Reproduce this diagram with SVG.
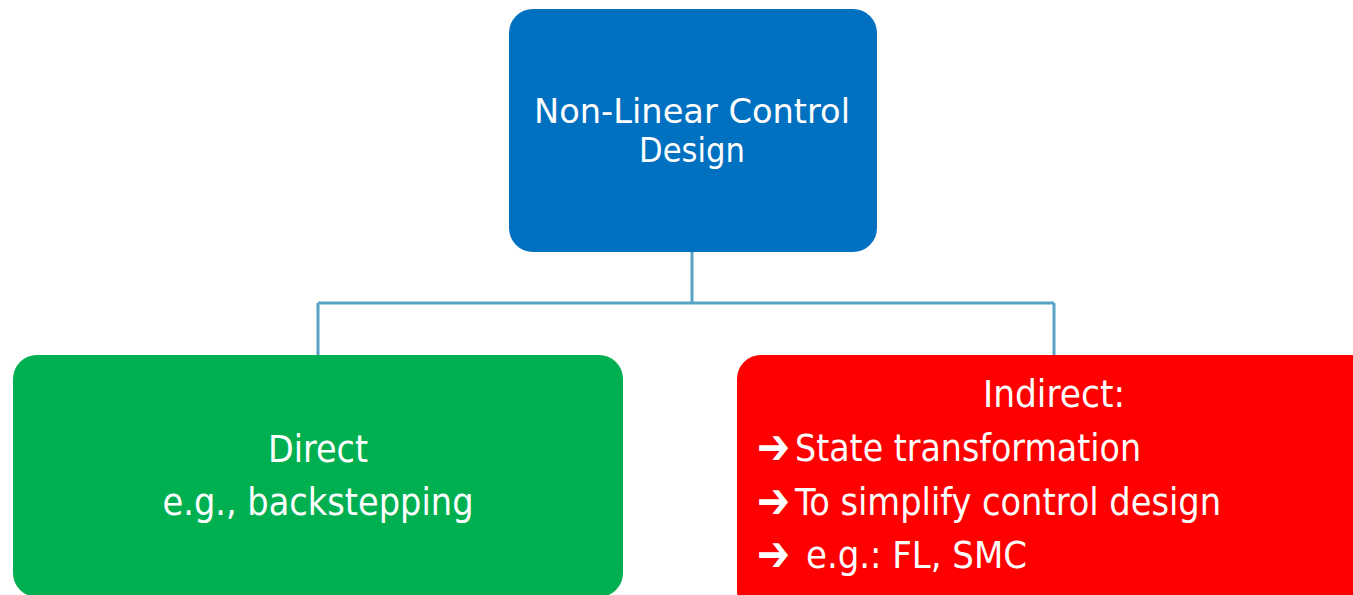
<svg xmlns="http://www.w3.org/2000/svg" width="1353" height="595" viewBox="0 0 1353 595">
  <style>
    .lbl { font-family: "DejaVu Sans Condensed", "DejaVu Sans", sans-serif; fill: #ffffff; }
    .top { font-size: 34px; }
    .big { font-size: 37px; }
    .arw { font-family: "DejaVu Sans", sans-serif; font-size: 50px; font-weight: bold; fill: #ffffff; }
    .wire { fill: none; stroke: #56A3C3; stroke-width: 3; }
  </style>
  <rect width="1353" height="595" fill="#ffffff"/>

  <g id="connectors">
    <path class="wire" d="M692 252 V303 M318 303 H1054 M318 303 V355 M1054 303 V355"/>
  </g>

  <g id="node-root">
    <rect x="509" y="9" width="368" height="243" rx="24" fill="#0070C0"/>
    <text class="lbl top" x="692" y="123" text-anchor="middle" textLength="316" lengthAdjust="spacingAndGlyphs">Non-Linear Control</text>
    <text class="lbl top" x="692" y="162" text-anchor="middle" textLength="106" lengthAdjust="spacingAndGlyphs">Design</text>
  </g>

  <g id="node-direct">
    <rect x="13" y="355" width="610" height="242" rx="24" fill="#00B050"/>
    <text class="lbl big" x="318" y="462" text-anchor="middle" textLength="100" lengthAdjust="spacingAndGlyphs">Direct</text>
    <text class="lbl big" x="318" y="515" text-anchor="middle" textLength="311" lengthAdjust="spacingAndGlyphs">e.g., backstepping</text>
  </g>

  <g id="node-indirect">
    <rect x="737" y="355" width="650" height="260" rx="24" fill="#FF0000"/>
    <text class="lbl big" x="1054" y="407" text-anchor="middle" textLength="142" lengthAdjust="spacingAndGlyphs">Indirect:</text>
    <text class="arw" x="757" y="464" textLength="33" lengthAdjust="spacingAndGlyphs">➔</text>
    <text class="lbl big" x="795" y="461" textLength="346" lengthAdjust="spacingAndGlyphs">State transformation</text>
    <text class="arw" x="757" y="518" textLength="33" lengthAdjust="spacingAndGlyphs">➔</text>
    <text class="lbl big" x="795" y="515" textLength="426" lengthAdjust="spacingAndGlyphs">To simplify control design</text>
    <text class="arw" x="757" y="571" textLength="33" lengthAdjust="spacingAndGlyphs">➔</text>
    <text class="lbl big" x="806" y="568" textLength="221" lengthAdjust="spacingAndGlyphs">e.g.: FL, SMC</text>
  </g>
</svg>
